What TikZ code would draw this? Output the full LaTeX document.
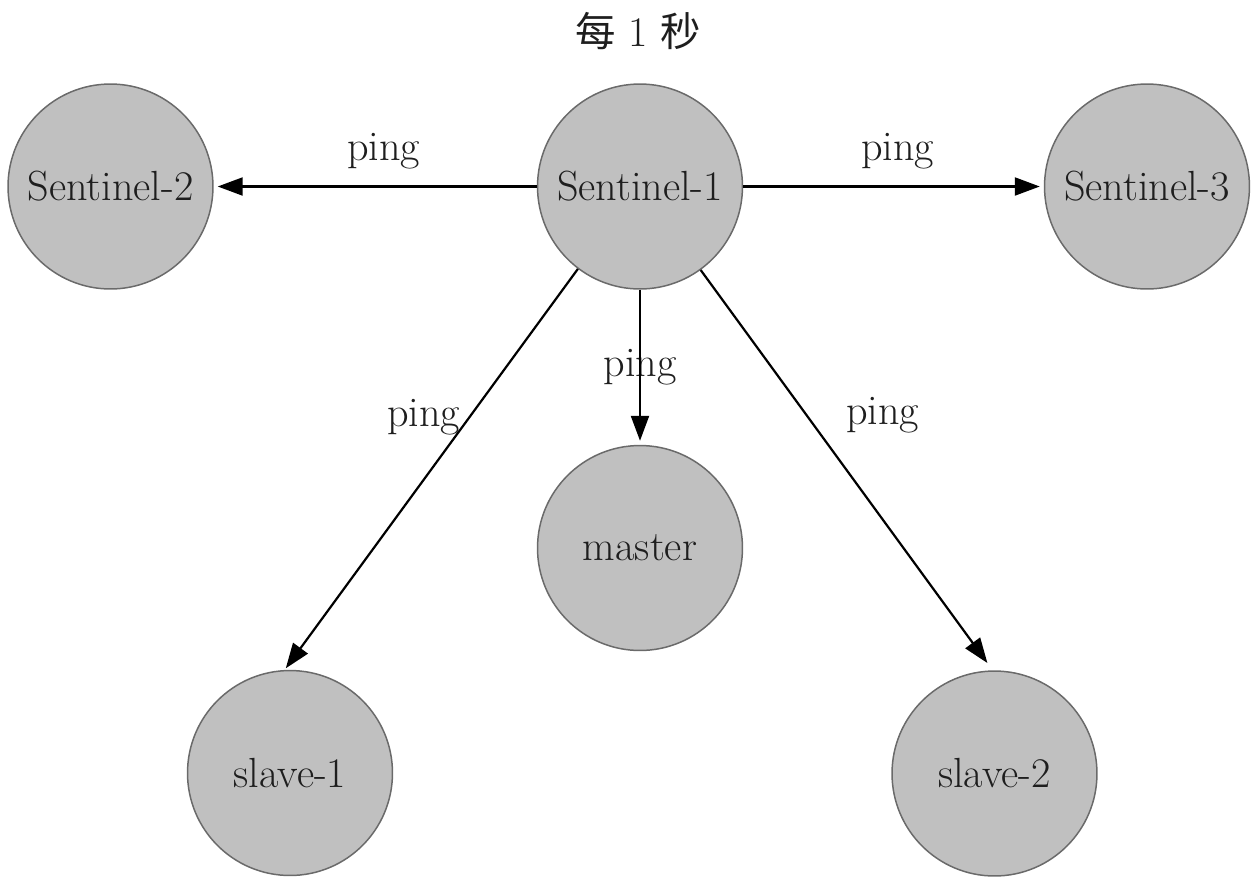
\documentclass[tikz,border=0pt]{standalone}
\usepackage{fontspec}
\newfontfamily\cjkfont{Noto Sans CJK SC}
\usetikzlibrary{arrows.meta}
\definecolor{nodefill}{HTML}{C0C0C0}
\definecolor{nodeline}{HTML}{6A6A6A}
\definecolor{txt}{HTML}{1E1E1E}
\begin{document}
\begin{tikzpicture}[x=0.02cm,y=-0.02cm,
  srv/.style={circle, draw=nodeline, fill=nodefill, line width=0.85pt, minimum size=4.1cm, inner sep=0pt, text=txt, font=\fontsize{24}{28}\selectfont},
  lbl/.style={text=txt, font=\fontsize{24}{28}\selectfont, inner sep=0pt},
  link/.style={-{Triangle[length=0.5cm,width=0.36cm]}, line width=1.25pt, black, shorten >=0.08cm}]
\useasboundingbox (0,0) rectangle (1255,877);
% title
\node[lbl] (title) at (638,31) {{\cjkfont\fontsize{23}{26}\selectfont 每} 1 {\cjkfont\fontsize{23}{26}\selectfont 秒}};
% nodes
\node[srv] (s2) at (110.5,186.5) {Sentinel-2};
\node[srv] (s1) at (640,186.5) {Sentinel-1};
\node[srv] (s3) at (1147,186.5) {Sentinel-3};
\node[srv] (m) at (640,548) {master};
\node[srv] (sl1) at (290,773) {slave-1};
\node[srv] (sl2) at (994.5,773.5) {slave-2};
% labels
\node[lbl] (p2) at (383.5,151) {ping};
\node[lbl] (p3) at (897.5,151) {ping};
\node[lbl] (pm) at (640,367) {ping};
\node[lbl] (pl) at (423.5,417) {ping};
\node[lbl] (pr) at (882.5,415) {ping};
% connectors
\draw[link] (s1.west) -- (s2.east);
\draw[link] (s1.east) -- (s3.west);
\draw[link] (s1.south) -- (m.north);
\draw[link, shorten >=0.04cm] (s1.233.6) -- (sl1.93);
\draw[link, shorten >=0.18cm] (s1.306.3) -- (sl2.91);
\end{tikzpicture}
\end{document}
